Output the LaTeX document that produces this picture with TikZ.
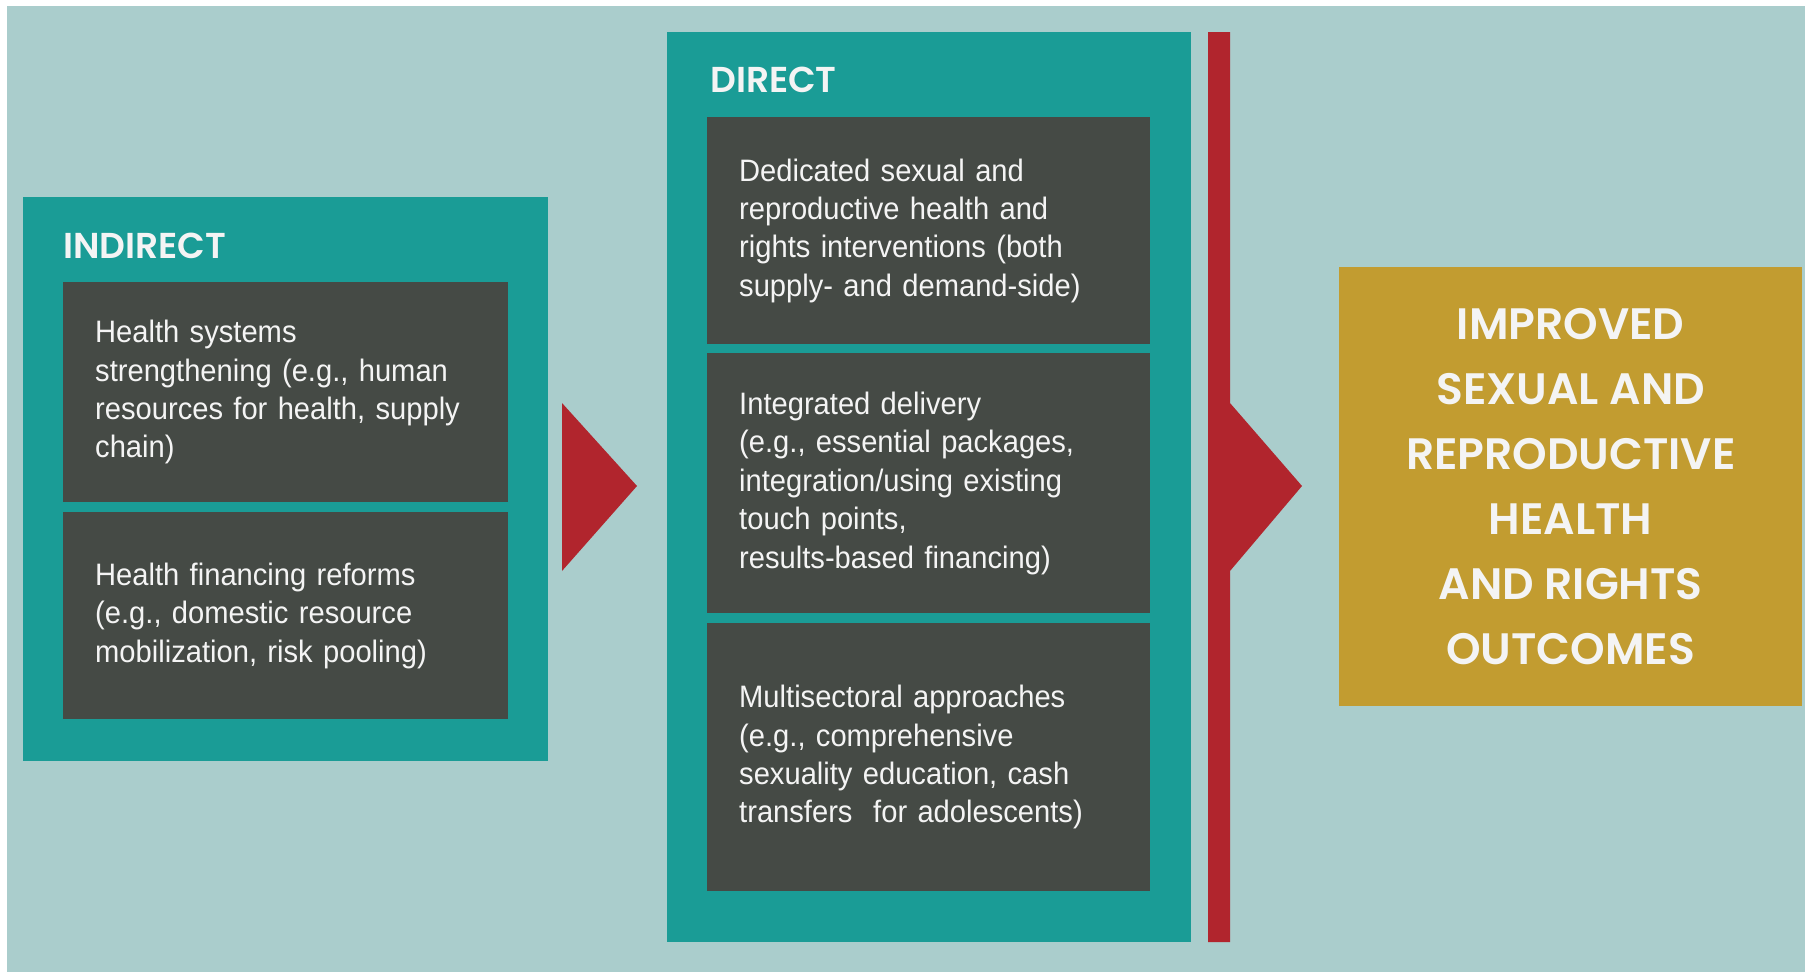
\documentclass[tikz,border=0pt]{standalone}
\usepackage{fontspec}
\setmainfont{Liberation Sans}
\newfontfamily\bodyfont{Liberation Sans}[FakeStretch=0.94]
\newfontfamily\geo{Poppins}[BoldFont={Poppins SemiBold}]
\definecolor{bgteal}{HTML}{AACDCC}
\definecolor{boxteal}{HTML}{1A9C96}
\definecolor{boxgray}{HTML}{454A45}
\definecolor{arrred}{HTML}{B1252D}
\definecolor{goldbox}{HTML}{C29C30}
\definecolor{txtwhite}{HTML}{F4F4F4}
\begin{document}
\begin{tikzpicture}[x=1pt,y=-1pt,
  panel/.style={fill=boxteal, draw=none, anchor=north west, inner sep=0pt},
  item/.style={fill=boxgray, draw=none, anchor=north west, text=txtwhite,
    font=\bodyfont\fontsize{31}{38.4}\selectfont, align=left,
    inner xsep=32pt, inner ysep=0pt},
  head/.style={text=txtwhite, anchor=base west, inner sep=0pt,
    font=\geo\bfseries\fontsize{36}{40}\selectfont},
  arrowshape/.style={fill=arrred, draw=none}
]
\useasboundingbox (0,0) rectangle (1805,972);
\fill[white] (0,0) rectangle (1805,972);
\fill[bgteal] (7,6) rectangle (1805,972);

% Indirect panel
\node[panel, minimum width=525pt, minimum height=564pt] (indirect) at (23,197) {};
\node[head] (indlabel) at (63,258) {INDIRECT};
\node[item, minimum width=445pt, minimum height=220pt, text width=381pt] (hss) at (63,282)
  {Health systems\\strengthening (e.g., human\\resources for health, supply\\chain)};
\node[item, minimum width=445pt, minimum height=207pt, text width=381pt] (hfr) at (63,512)
  {Health financing reforms\\(e.g., domestic resource\\mobilization, risk pooling)};

% first arrow
\fill[arrowshape] (562,403) -- (637,486) -- (562,571) -- cycle;

% Direct panel
\node[panel, minimum width=524pt, minimum height=910pt] (direct) at (667,32) {};
\node[head] (dirlabel) at (710,92) {DIRECT};
\node[item, minimum width=443pt, minimum height=227pt, text width=379pt] (ded) at (707,117)
  {Dedicated sexual and\\reproductive health and\\rights interventions (both\\supply- and demand-side)};
\node[item, minimum width=443pt, minimum height=260pt, text width=379pt] (integ) at (707,353)
  {Integrated delivery\\(e.g., essential packages,\\integration/using existing\\touch points,\\results-based financing)};
\node[item, minimum width=443pt, minimum height=268pt, text width=379pt] (multi) at (707,623)
  {Multisectoral approaches\\(e.g., comprehensive\\sexuality education, cash\\transfers\ \ for adolescents)};

% red bar with arrow
\fill[arrowshape] (1208,32) -- (1230,32) -- (1230,403) -- (1302,486) -- (1230,571)
  -- (1230,942) -- (1208,942) -- cycle;

% Outcome box
\node[fill=goldbox, draw=none, anchor=north west, minimum width=463pt, minimum height=439pt,
  inner sep=0pt, text=txtwhite, align=center,
  font=\geo\bfseries\fontsize{44}{65}\selectfont] (outcome) at (1339,267)
  {IMPROVED\\SEXUAL AND\\REPRODUCTIVE\\HEALTH\\AND RIGHTS\\OUTCOMES};
\end{tikzpicture}
\end{document}
